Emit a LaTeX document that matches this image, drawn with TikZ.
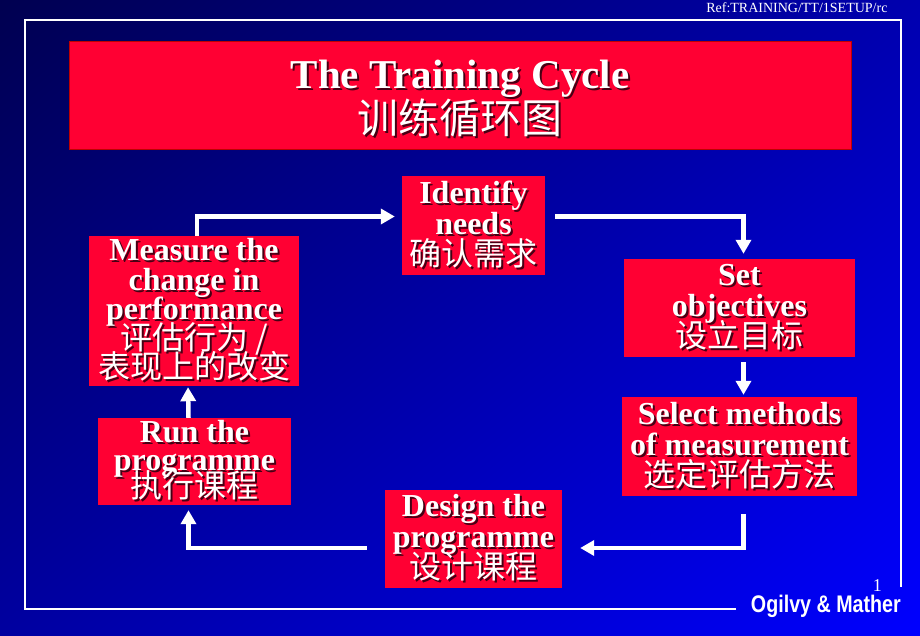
\documentclass[tikz,border=0pt]{standalone}
\usepackage{fontspec}
\setmainfont{Liberation Serif}
\newfontfamily\cjk{Noto Sans CJK SC}
\newfontfamily\ogfont[FakeStretch=0.82]{Liberation Sans}
\usetikzlibrary{arrows.meta,shadings}
\definecolor{boxred}{RGB}{255,0,51}
\definecolor{shadowred}{RGB}{70,0,20}
\definecolor{bgul}{RGB}{0,0,80}
\definecolor{bgur}{RGB}{0,0,175}
\definecolor{bgll}{RGB}{0,0,160}
\definecolor{bglr}{RGB}{0,0,255}
\newcommand\sh[1]{\leavevmode\rlap{\kern2pt\raisebox{-2pt}{\color{shadowred}#1}}#1}
\newcommand\zh[1]{\sh{\cjk\mdseries #1}}
\newcommand\lead[2]{\bfseries\fontsize{#1}{#2}\selectfont\lineskiplimit=-100pt}

\begin{document}
\begin{tikzpicture}[x=1pt,y=-1pt,>={Triangle[width=15pt,length=14pt]}]
      \tikzstyle{stage}=[rectangle,fill=boxred,inner sep=0pt,text=white,align=center,font=\lead{32}{31}]
      \tikzstyle{flow}=[->,draw=white,line width=4.5pt]
      \useasboundingbox (0,0) rectangle (920,636);
      \shade[upper left=bgul,upper right=bgur,lower left=bgll,lower right=bglr] (0,0) rectangle (920,636);
      \draw[white,line width=2pt] (736,609) -- (25,609) -- (25,20) -- (901,20) -- (901,587);
      \node[stage,minimum width=782pt,minimum height=108pt,draw=red!75!black,font=\lead{41}{45}](title) at (460,95){\rule{0pt}{37pt}\sh{The Training Cycle}\\\zh{训练循环图}};
      \node[stage,minimum width=143pt,minimum height=99pt](identify) at (473.5,225.5){\sh{Identify}\\\sh{needs}\\\zh{确认需求}};
      \node[stage,minimum width=231pt,minimum height=98pt](setobj) at (739.5,308){\sh{Set}\\\sh{objectives}\\\zh{设立目标}};
      \node[stage,minimum width=235pt,minimum height=99pt](select) at (739.5,446.5){\sh{Select methods}\\\sh{of measurement}\\\zh{选定评估方法}};
      \node[stage,minimum width=177pt,minimum height=98pt](design) at (473.5,539){\sh{Design the}\\\sh{programme}\\\zh{设计课程}};
      \node[stage,minimum width=193pt,minimum height=87pt,font=\lead{32}{27.5}](run) at (194.5,461.5){\sh{Run the}\\\sh{programme}\\\zh{执行课程}};
      \node[stage,minimum width=210pt,minimum height=150pt,font=\lead{32}{29.5}](measure) at (194,311){\sh{Measure the}\\\sh{change in}\\\sh{performance}\\\zh{评估行为 /}\\\zh{表现上的改变}};
      \draw[flow,shorten >=7pt]([xshift=3pt]measure.north) |- ([yshift=9pt]identify.west);
      \draw[flow,shorten <=10pt,shorten >=5pt]([yshift=9pt]identify.east) -| ([xshift=4pt]setobj.north);
      \draw[flow,shorten <=5pt,shorten >=2pt]([xshift=4pt]setobj.south) -- ([xshift=4pt]select.north);
      \draw[flow,shorten <=18pt,shorten >=18pt]([xshift=4pt]select.south) |- ([yshift=-9pt]design.east);
      \draw[flow,shorten <=18pt,shorten >=5pt]([yshift=-9pt]design.west) -| ([xshift=-6pt]run.south);
      \draw[flow,shorten >=1pt]([xshift=-6pt]run.north) -- ([xshift=-6pt]measure.south);
      \node[anchor=base east,text=white,font=\fontsize{14}{14}\selectfont](ref) at (891,13){Ref:TRAINING/TT/1SETUP/rc};
      \node[anchor=base east,text=white,inner sep=0pt,font=\fontsize{18}{18}\selectfont](page) at (882,591){1};
      \node[anchor=base east,text=white,inner sep=0pt,font=\ogfont\bfseries\fontsize{24}{24}\selectfont](logo) at (901,612){Ogilvy \& Mather};
    \end{tikzpicture}
\end{document}
